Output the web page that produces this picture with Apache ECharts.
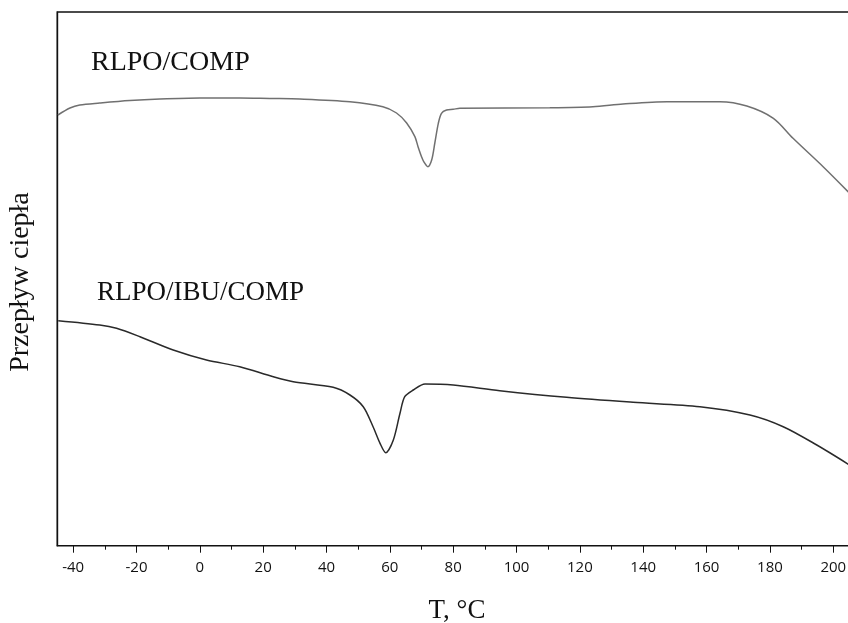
<!DOCTYPE html>
<html>
<head>
<meta charset="utf-8">
<script src="https://cdn.jsdelivr.net/npm/echarts@6/dist/echarts.min.js"></script>
<style>html,body{margin:0;padding:0;background:#fff}#c{width:848px;height:623px}</style>
</head>
<body>
<div id="c"></div>
<script>
// Temperature tick labels (°C)
const xTicks = [-40, -20, 0, 20, 40, 60, 80, 100, 120, 140, 160, 180, 200];
const xMinorTicks = [-30, -10, 10, 30, 50, 70, 90, 110, 130, 150, 170, 190];

// RLPO/COMP: temperature (°C) and heat flow (arbitrary units)
const compT = [-44.8, -41, -37.9, -31.6, -22.1, -12.6, 0, 12.6, 22.1, 31.6, 47.4, 57.8, 62.1, 65.3, 67.9, 68.9, 70.0, 70.7, 72.0, 73.2, 74.2, 75.3, 76.3, 77.9, 80.0, 82.1, 110.5, 124.1, 133.6, 147.5, 164.2, 172.7, 181.1, 187.3, 196.8, 205.0];
const compHF = [43.07, 43.77, 44.07, 44.27, 44.52, 44.67, 44.77, 44.77, 44.72, 44.67, 44.40, 43.90, 43.27, 42.27, 40.90, 39.90, 38.90, 38.40, 37.90, 38.57, 40.27, 42.24, 43.24, 43.57, 43.64, 43.74, 43.80, 43.90, 44.17, 44.40, 44.40, 43.97, 42.74, 40.74, 37.90, 35.30];

// RLPO/IBU/COMP
const ibuT = [-44.7, -31.6, -26.3, -18.9, -8.4, 2.1, 12.6, 23.2, 29.5, 42.1, 47.4, 51.6, 54.7, 56.9, 58.7, 61.1, 63.2, 64.7, 67.4, 71.1, 80.0, 94.7, 115.8, 136.8, 157.9, 173.7, 184.2, 194.8, 205.0];
const ibuHF = [22.50, 22.07, 21.74, 20.90, 19.57, 18.57, 17.90, 16.90, 16.40, 15.84, 15.07, 13.90, 11.90, 10.24, 9.30, 10.57, 13.24, 14.90, 15.57, 16.17, 16.07, 15.50, 14.84, 14.34, 13.90, 13.07, 11.90, 10.07, 8.10];

const seriesNames = ['RLPO/COMP', 'RLPO/IBU/COMP'];
const xTitle = 'T, °C';
const yTitle = 'Przepływ ciepła';

const zip = (a, b) => a.map((v, i) => [v, b[i]]);

const chart = echarts.init(document.getElementById('c'), null, {renderer: 'canvas'});
const serif = '"Liberation Serif", "DejaVu Serif", serif';
chart.setOption({
  backgroundColor: '#fff',
  animation: false,
  grid: {left: 57.3, right: -3, top: 12, bottom: 77.3, outerBoundsMode: 'none', containLabel: false, show: true, borderColor: '#111', borderWidth: 1.6, backgroundColor: 'transparent'},
  xAxis: [{
    type: 'value', min: -45, max: 205.6, position: 'bottom',
    axisLine: {show: true, onZero: false, lineStyle: {color: '#111', width: 1.2}},
    axisTick: {show: true, customValues: xTicks, length: 7, lineStyle: {color: '#111'}},
    axisLabel: {customValues: xTicks, margin: 15, fontFamily: '"Open Sans", "Noto Sans", sans-serif', fontSize: 15, color: '#111'},
    splitLine: {show: false}
  }, {
    type: 'value', min: -45, max: 205.6, position: 'bottom',
    axisLine: {show: false, onZero: false},
    axisTick: {show: true, customValues: xMinorTicks, length: 4, lineStyle: {color: '#111'}},
    axisLabel: {show: false},
    splitLine: {show: false}
  }],
  yAxis: {
    type: 'value', min: 0, max: 53.37,
    axisLine: {show: true, onZero: false, lineStyle: {color: '#111', width: 1.2}},
    axisTick: {show: false}, axisLabel: {show: false}, splitLine: {show: false}
  },
  series: [{
    name: seriesNames[0], type: 'line', data: zip(compT, compHF), smooth: 0.3,
    symbol: 'none', lineStyle: {color: '#707070', width: 1.5}
  }, {
    name: seriesNames[1], type: 'line', data: zip(ibuT, ibuHF), smooth: 0.3,
    symbol: 'none', lineStyle: {color: '#2a2a2a', width: 1.5}
  }],
  graphic: [
    {type: 'text', x: 91, y: 62.5, style: {text: seriesNames[0], font: '28px ' + serif, fill: '#111', verticalAlign: 'middle', align: 'left'}},
    {type: 'text', x: 97, y: 293, style: {text: seriesNames[1], font: '27px ' + serif, fill: '#111', verticalAlign: 'middle', align: 'left'}},
    {type: 'text', x: 457, y: 611, style: {text: xTitle, font: '27px ' + serif, fill: '#111', verticalAlign: 'middle', align: 'center'}},
    {type: 'text', x: 21, y: 282, rotation: Math.PI / 2, style: {text: yTitle, font: '28px ' + serif, fill: '#111', verticalAlign: 'middle', align: 'center'}}
  ]
});
</script>
</body>
</html>
